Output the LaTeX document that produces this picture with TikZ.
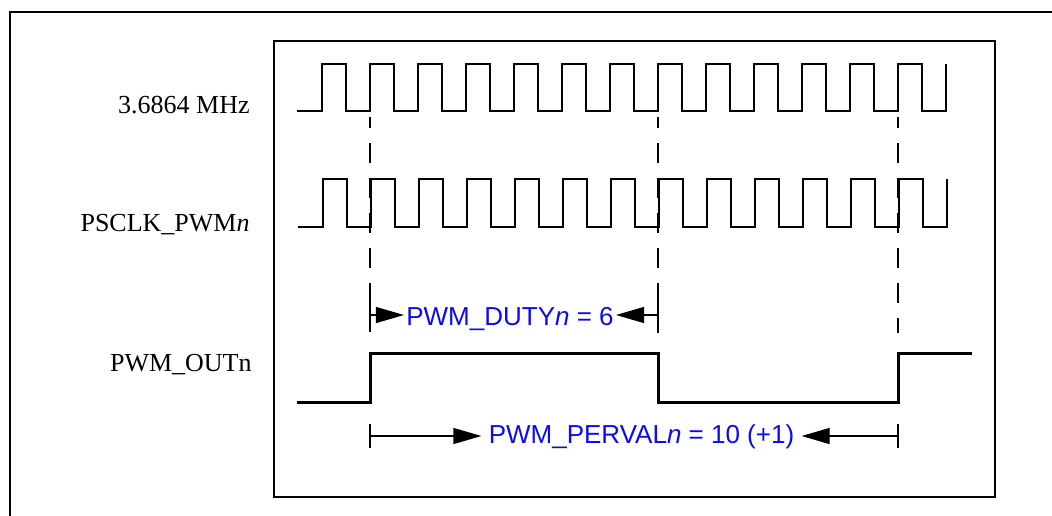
\documentclass[tikz,border=0pt]{standalone}
\usepackage{fontspec}
\setmainfont{Liberation Serif}
\setsansfont{Liberation Sans}
\usepackage{xcolor}
\usetikzlibrary{arrows.meta}
\definecolor{valblue}{RGB}{10,10,245}

\begin{document}
\begin{tikzpicture}[
		x=0.5pt, y=-0.5pt,
		>={Triangle[length=14pt,width=8pt]},
		frame/.style={draw, line width=1pt},
		clk/.style={line width=1.1pt},
		pwm/.style={line width=1.5pt},
		guide/.style={line width=1pt, dash pattern=on 10pt off 7.5pt, dash phase=4.5pt},
		tick/.style={line width=0.65pt},
		dim/.style={->, line width=0.6pt},
		lbl/.style={font=\rmfamily\fontsize{13}{15}\selectfont, inner sep=0pt},
		val/.style={font=\sffamily\fontsize{13}{15}\selectfont, text=valblue, inner sep=1pt}
		]
		\useasboundingbox (0,0) rectangle (1052,515);
		
		% Frames (outer one runs off the page)
		\begin{scope}
			\clip (0,0) rectangle (1052,515);
			\draw[frame] (10,12) rectangle (1070,530);
		\end{scope}
		\draw[frame] (274,40.5) rectangle (995,496.5);
		
		% Signal names
		\node[lbl, anchor=base east] (clkin) at (250,113) {3.6864 MHz};
		\node[lbl, anchor=base east] (psclk) at (250,231) {PSCLK\_PWM\textit{n}};
		\node[lbl, anchor=base east] (pwmout) at (252,371) {PWM\_OUTn};
		
		% Clock waveforms
		\draw[clk] (297,111) -- (322,111)
			\foreach \k in {1,...,13} { -- ++(0,-47) -- ++(24,0) -- ++(0,47) -- ++(24,0) }
			-- ++(0,-47);
		\draw[clk] (298,227) -- (323,227)
			\foreach \k in {1,...,13} { -- ++(0,-48) -- ++(24,0) -- ++(0,48) -- ++(24,0) }
			-- ++(0,-48);
		
		% Guide lines
		\coordinate (ga) at (370,117);
		\coordinate (gb) at (658,117);
		\coordinate (gc) at (898,117);
		\draw[guide] (ga) -- ++(0,169);
		\draw[guide] (gb) -- ++(0,170);
		\draw[guide] (gc) -- ++(0,216);
		
		% PWM output
		\draw[pwm] (297,402) -- (370,402) -- (370,353) -- (658,353) -- (658,402) -- (898,402) -- (898,353) -- (972,353);
		
		% Duty dimension
		\coordinate (dutyL) at (370,315);
		\coordinate (dutyR) at (658,315);
		\draw[tick] (dutyL) ++(0,-29) -- ++(0,46);
		\draw[tick] (dutyR) ++(0,-28) -- ++(0,46);
		\node[val, anchor=base] (duty) at (510,325) {PWM\_DUTY\textit{n} = 6};
		\draw[dim] (dutyL) -- (dutyL -| duty.west);
		\draw[dim] (dutyR) -- (dutyR -| duty.east);
		
		% Period dimension
		\coordinate (perL) at (370,436);
		\coordinate (perR) at (898,436);
		\draw[tick] (perL) ++(0,-12) -- ++(0,24);
		\draw[tick] (perR) ++(0,-12) -- ++(0,24);
		\node[val, anchor=base, inner sep=3.5pt] (perval) at (641.5,443) {PWM\_PERVAL\textit{n} = 10 (+1)};
		\draw[dim] (perL) -- (perL -| perval.west);
		\draw[dim] (perR) -- (perR -| perval.east);
		
	\end{tikzpicture}
\end{document}
